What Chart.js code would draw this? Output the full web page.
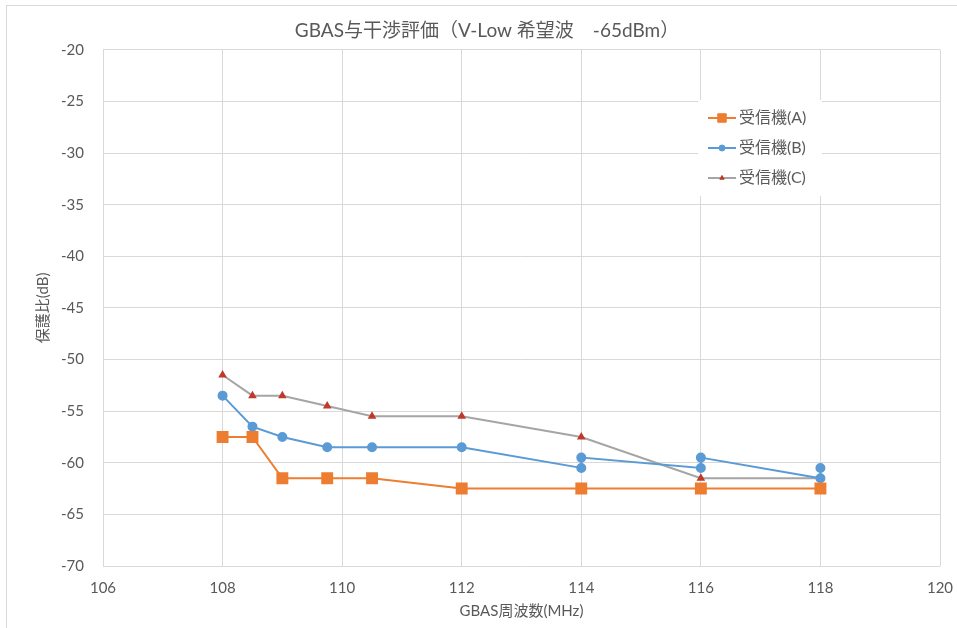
<!DOCTYPE html>
<html>
<head>
<meta charset="utf-8">
<script src="https://cdn.jsdelivr.net/npm/chart.js@4"></script>
<style>
  html, body { margin: 0; padding: 0; background: #fff; }
  #wrap { position: relative; width: 957px; height: 628px; }
  #frame { position: absolute; left: 6px; top: 5px; width: 960px; height: 640px;
           border-left: 1px solid #d9d9d9; border-top: 1px solid #d9d9d9; }
</style>
</head>
<body>
<div id="wrap">
  <div id="frame"></div>
  <canvas id="gbas" width="957" height="628"></canvas>
</div>
<script>
// values
var freqA = [108, 108.5, 109, 109.75, 110.5, 112, 114, 116, 118];
var ratioA = [-57.5, -57.5, -61.5, -61.5, -61.5, -62.5, -62.5, -62.5, -62.5];

var freqB = [108, 108.5, 109, 109.75, 110.5, 112, 114, 114, 116, 116, 118, 118];
var ratioB = [-53.5, -56.5, -57.5, -58.5, -58.5, -58.5, -60.5, -59.5, -60.5, -59.5, -61.5, -60.5];

var freqC = [108, 108.5, 109, 109.75, 110.5, 112, 114, 116, 118];
var ratioC = [-51.5, -53.5, -53.5, -54.5, -55.5, -55.5, -57.5, -61.5, -61.5];

var seriesNames = ["受信機(A)", "受信機(B)", "受信機(C)"];

var textColor = "#595959";
var gridColor = "#d9d9d9";
var fontFamily = "Lato, 'Noto Sans CJK JP', sans-serif";

function toPoints(xs, ys) {
  return xs.map(function (x, i) {
    return { x: x, y: ys[i] };
  });
}

// legend drawn inside the plot like the Excel one
var innerLegend = {
  id: "innerLegend",
  afterDraw: function (chart) {
    var ctx = chart.ctx;
    var x0 = 708, y0 = 118, step = 30;
    ctx.save();
    ctx.fillStyle = "#fff";
    ctx.fillRect(698, 100, 124, 96);
    chart.data.datasets.forEach(function (ds, i) {
      var y = y0 + i * step;
      ctx.strokeStyle = ds.borderColor;
      ctx.lineWidth = 2;
      ctx.beginPath();
      ctx.moveTo(x0, y);
      ctx.lineTo(x0 + 28, y);
      ctx.stroke();
      ctx.fillStyle = ds.pointBackgroundColor;
      ctx.strokeStyle = ds.pointBorderColor;
      ctx.lineWidth = 1;
      Chart.helpers.drawPoint(ctx, {
        pointStyle: ds.pointStyle,
        radius: ds.legendRadius,
        borderWidth: 1,
      }, x0 + 14, y);
      ctx.fillStyle = textColor;
      ctx.font = "16px " + fontFamily;
      ctx.textBaseline = "middle";
      ctx.fillText(ds.label, x0 + 31, y);
    });
    ctx.restore();
  },
};

var gbasChart = new Chart(document.getElementById("gbas").getContext("2d"), {
  type: "scatter",
  data: {
    datasets: [
      {
        label: seriesNames[0],
        data: toPoints(freqA, ratioA),
        showLine: true,
        borderColor: "#ed7d31",
        borderWidth: 2,
        pointStyle: "rect",
        pointRadius: 7,
        legendRadius: 6,
        pointBackgroundColor: "#ed7d31",
        pointBorderColor: "#ed7d31",
      },
      {
        label: seriesNames[1],
        data: toPoints(freqB, ratioB),
        showLine: true,
        borderColor: "#5b9bd5",
        borderWidth: 2,
        pointStyle: "circle",
        pointRadius: 4,
        legendRadius: 3,
        pointBackgroundColor: "#5b9bd5",
        pointBorderColor: "#5b9bd5",
      },
      {
        label: seriesNames[2],
        data: toPoints(freqC, ratioC),
        showLine: true,
        borderColor: "#a5a5a5",
        borderWidth: 2,
        pointStyle: "triangle",
        pointRadius: 3,
        legendRadius: 2.5,
        pointBackgroundColor: "#c0392b",
        pointBorderColor: "#c0392b",
      },
    ],
  },
  options: {
    responsive: false,
    animation: false,
    layout: { padding: { left: 34, right: 17, top: 0, bottom: 8 } },
    plugins: {
      legend: { display: false },
      tooltip: { enabled: false },
      title: {
        display: true,
        text: "GBAS与干渉評価（V-Low 希望波　-65dBm）",
        color: textColor,
        font: { family: fontFamily, size: 19, weight: "normal" },
        padding: { top: 19, bottom: 8 },
      },
    },
    scales: {
      x: {
        type: "linear",
        min: 106,
        max: 120,
        afterFit: function (scale) {
          scale.height = 54;
          scale.paddingLeft = 0;
          scale.paddingRight = 0;
        },
        ticks: { stepSize: 2, color: textColor, padding: 13, font: { family: fontFamily, size: 15 } },
        grid: { color: gridColor, drawTicks: false },
        border: { display: false },
        title: {
          display: true,
          text: "GBAS周波数(MHz)",
          color: textColor,
          padding: 0,
          font: { family: fontFamily, size: 15 },
        },
      },
      y: {
        type: "linear",
        min: -70,
        max: -20,
        afterFit: function (scale) { scale.width = 69; },
        ticks: { stepSize: 5, color: textColor, padding: 19, font: { family: fontFamily, size: 15 } },
        grid: { color: gridColor, drawTicks: false },
        border: { display: false },
        title: {
          display: true,
          text: "保護比(dB)",
          color: textColor,
          padding: 0,
          font: { family: fontFamily, size: 15 },
        },
      },
    },
  },
  plugins: [innerLegend],
});
</script>
</body>
</html>
